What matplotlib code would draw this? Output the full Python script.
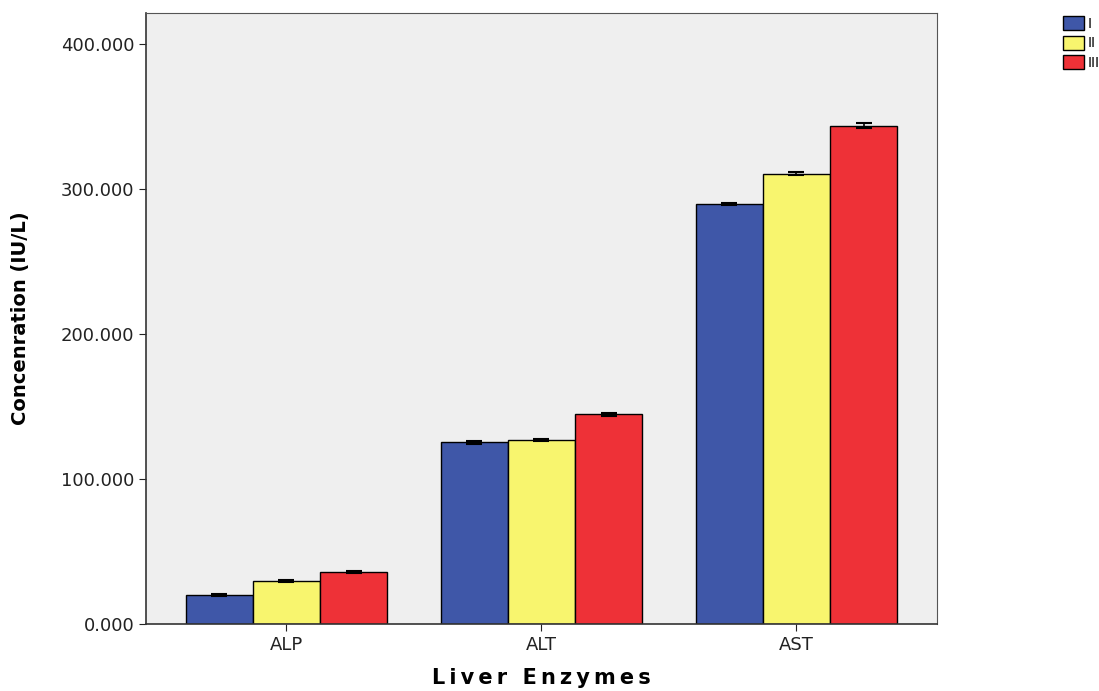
import numpy as np
import matplotlib.pyplot as plt
from matplotlib.patches import Patch

# Data
enzymes = ["ALP", "ALT", "AST"]
groups = ["I", "II", "III"]
group_I = [20.0, 125.5, 289.7]
group_II = [29.7, 126.9, 310.5]
group_III = [35.8, 144.6, 343.8]
err_I = [0.4, 1.0, 0.8]
err_II = [0.5, 1.0, 1.0]
err_III = [0.8, 0.8, 1.6]

colors = ["#3F57A8", "#F8F56E", "#EE3137"]

fig = plt.figure(figsize=(10.99, 6.91), dpi=100)
ax = fig.add_axes([0.1328, 0.097, 0.7198, 0.884])
ax.set_facecolor("#EFEFEF")

x = np.arange(len(enzymes))
width = 0.263
series = [group_I, group_II, group_III]
errors = [err_I, err_II, err_III]
for i, (vals, errs) in enumerate(zip(series, errors)):
    ax.bar(x + (i - 1) * width, vals, width, color=colors[i],
           edgecolor="black", linewidth=1.0, zorder=2)
    ax.errorbar(x + (i - 1) * width, vals, yerr=errs, fmt="none",
                ecolor="black", elinewidth=1.2, capsize=6, capthick=1.5, zorder=3)

ax.set_xlim(-0.551, 2.551)
ax.set_ylim(0, 421.4)
ax.set_yticks([0, 100, 200, 300, 400])
ax.set_yticklabels(["0.000", "100.000", "200.000", "300.000", "400.000"])
ax.set_xticks(x)
ax.set_xticklabels(enzymes)
ax.tick_params(axis="both", labelsize=13, colors="#222222", direction="out", length=5)

for s in ["left", "bottom"]:
    ax.spines[s].set_color("#333333")
    ax.spines[s].set_linewidth(1.2)
for s in ["top", "right"]:
    ax.spines[s].set_color("#555555")
    ax.spines[s].set_linewidth(0.8)

ax.set_xlabel("\u2009".join("Liver Enzymes"), fontsize=15, fontweight="bold", labelpad=10)
ax.set_ylabel("Concenration (IU/L)", fontsize=14, fontweight="bold", labelpad=22)

handles = [Patch(facecolor=c, edgecolor="black", linewidth=1.0) for c in colors]
fig.legend(handles, groups, loc="upper left", bbox_to_anchor=(0.962, 0.985),
           frameon=False, fontsize=10, handlelength=1.5, handleheight=1.2,
           handletextpad=0.3, labelspacing=0.35, borderaxespad=0)

fig.savefig("out.png", dpi=100)
